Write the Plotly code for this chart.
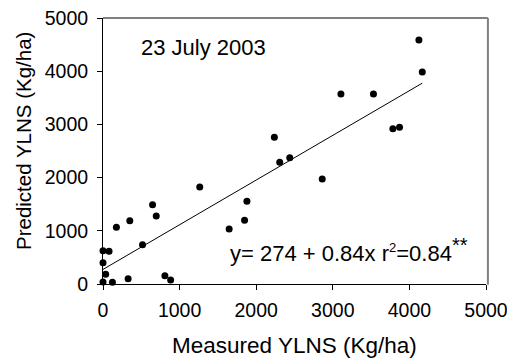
import plotly.graph_objects as go

measured = [0, 79, 0, 35, 0, 123, 328, 175, 350, 516, 647, 695, 808, 883, 1263,
            1647, 1848, 1879, 2237, 2307, 2438, 2862, 3106, 3531, 3784, 3871, 4124, 4168]
predicted = [626, 614, 400, 182, 38, 32, 100, 1066, 1190, 739, 1491, 1278, 156, 75, 1823,
             1034, 1197, 1554, 2757, 2288, 2374, 1974, 3571, 3571, 2919, 2945, 4586, 3985]
intercept = 274
slope = 0.84
fit_x = [0, 4168]
fit_y = [intercept + slope * v for v in fit_x]
x_ticks = [0, 1000, 2000, 3000, 4000, 5000]
y_ticks = [0, 1000, 2000, 3000, 4000, 5000]

FONT = "Liberation Sans, Arial, sans-serif"
W, H = 507, 358
L, R, T, B = 103, 21, 18, 74

fig = go.Figure()
fig.add_trace(go.Scatter(x=fit_x, y=fit_y, mode="lines",
                         line=dict(color="black", width=1), showlegend=False))
fig.add_trace(go.Scatter(x=measured, y=predicted, mode="markers",
                         marker=dict(color="black", size=7), showlegend=False, cliponaxis=False))

fig.update_layout(
    width=W, height=H,
    margin=dict(l=L, r=R, t=T, b=B, autoexpand=False),
    paper_bgcolor="white", plot_bgcolor="white",
    font=dict(family=FONT, size=19.5, color="black"),
    xaxis=dict(range=[0, 5000], tickvals=x_ticks, ticktext=[str(v) for v in x_ticks],
               showgrid=False, zeroline=False, showline=True, linecolor="black", linewidth=1,
               ticks="outside", ticklen=5, tickcolor="black", tickwidth=1, automargin=False,
               ticklabelstandoff=4, ticklabeloverflow="allow"),
    yaxis=dict(range=[0, 5000], tickvals=y_ticks, ticktext=[str(v) for v in y_ticks],
               showgrid=False, zeroline=False, showline=True, linecolor="black", linewidth=1,
               ticks="outside", ticklen=5, tickcolor="black", tickwidth=1, automargin=False,
               ticklabelstandoff=5, ticklabeloverflow="allow"),
)
# top border (black) and right border (gray)
fig.add_shape(type="line", xref="paper", yref="paper", x0=0, x1=1.005, y0=1, y1=1,
              line=dict(color="black", width=1))
fig.add_shape(type="line", xref="paper", yref="paper", x0=1.005, x1=1.005, y0=-0.003, y1=1,
              line=dict(color="#808080", width=2))

def px_x(p):
    return (p - L) / (W - L - R)

def px_y(p):
    return (H - B - p) / (H - T - B)

# axis titles
fig.add_annotation(x=px_x(294), y=px_y(345), xref="paper", yref="paper",
                   xanchor="center", yanchor="middle", text="Measured YLNS (Kg/ha)",
                   showarrow=False, font=dict(size=22.5))
fig.add_annotation(x=px_x(23), y=px_y(141), xref="paper", yref="paper",
                   xanchor="center", yanchor="middle", text="Predicted YLNS (Kg/ha)",
                   textangle=-90, showarrow=False, font=dict(size=20.5))

fig.add_annotation(x=px_x(139), y=px_y(47), xref="paper", yref="paper", xanchor="left",
                   yanchor="middle", text="23 July 2003", showarrow=False, font=dict(size=22))
fig.add_annotation(x=px_x(228), y=px_y(250), xref="paper", yref="paper", xanchor="left",
                   yanchor="middle",
                   text=("y= 274 + 0.84x r<sup><span style='font-size:13px'>2</span></sup>"
                         "=0.84<sup><span style='font-size:20px'>**</span></sup>"),
                   showarrow=False, font=dict(size=22))

fig.write_html("out.html", post_script="document.body.style.margin='0px';",
               config={"displayModeBar": False})
